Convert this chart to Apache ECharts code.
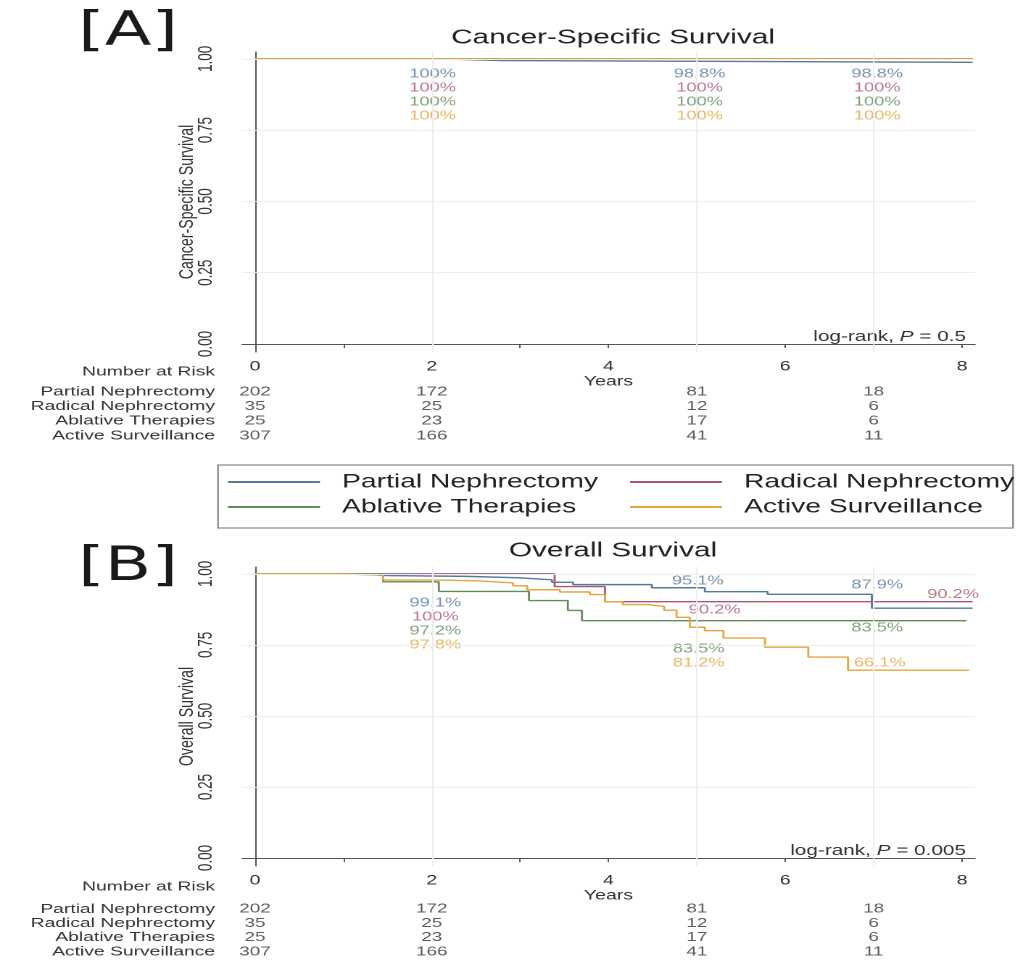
<!DOCTYPE html>
<html><head><meta charset="utf-8">
<script src="https://cdn.jsdelivr.net/npm/echarts@6/dist/echarts.min.js"></script>
<style>
html,body{margin:0;padding:0;background:#fff;overflow:hidden}
#wrap{width:1025px;height:968px;overflow:hidden;position:relative;background:#fff}
#chart{height:968px;transform-origin:0 0;position:absolute;left:0;top:0}
</style></head>
<body><div id="wrap"><div id="chart"></div></div>
<script>
// ---------------- DATA ----------------
const groups = ['Partial Nephrectomy', 'Radical Nephrectomy', 'Ablative Therapies', 'Active Surveillance'];
const xTicks = [0, 1, 2, 3, 4, 5, 6, 7, 8];
const xTickLabels = [0, 2, 4, 6, 8];
const yTickLabels = [0, 0.25, 0.5, 0.75, 1];

// Cancer-specific survival (Kaplan-Meier steps: [years, survival])
const cssPartial  = [[0, 1], [2.05, 0.994], [2.8, 0.988], [8.12, 0.988]];
const cssRadical  = [[0, 1], [8.12, 1]];
const cssAblative = [[0, 1], [8.12, 1]];
const cssActive   = [[0, 1], [8.12, 1]];

// Overall survival
const osPartial  = [[0, 1], [0.85, 0.997], [1.33, 0.994], [1.5, 0.991], [2.4, 0.986], [2.99, 0.979],
                    [3.36, 0.97], [3.6, 0.962], [4.49, 0.951], [5.09, 0.937], [5.8, 0.928], [6.98, 0.879], [8.12, 0.879]];
const osRadical  = [[0, 1], [3.39, 0.955], [3.96, 0.902], [8.12, 0.902]];
const osAblative = [[0, 1], [1.45, 0.972], [2.08, 0.938], [3.1, 0.906], [3.54, 0.871], [3.7, 0.835], [8.05, 0.835]];
const osActive   = [[0, 1], [0.9, 0.997], [1.45, 0.978], [2.1, 0.975], [2.55, 0.968], [2.92, 0.958], [3.08, 0.944],
                    [3.45, 0.936], [3.79, 0.927], [3.96, 0.902], [4.16, 0.892], [4.45, 0.885], [4.63, 0.872],
                    [4.77, 0.847], [4.92, 0.812], [5.09, 0.8], [5.3, 0.774], [5.77, 0.742], [6.26, 0.707],
                    [6.71, 0.661], [8.08, 0.661]];

// Annotated survival estimates at 2, 5 and 7 years
const annotYears = [2, 5, 7];
const cssAnnotPartial  = ['100%', '98.8%', '98.8%'];
const cssAnnotRadical  = ['100%', '100%', '100%'];
const cssAnnotAblative = ['100%', '100%', '100%'];
const cssAnnotActive   = ['100%', '100%', '100%'];
const osAnnotPartial  = ['99.1%', '95.1%', '87.9%'];
const osAnnotRadical  = ['100%', '90.2%', '90.2%'];
const osAnnotAblative = ['97.2%', '83.5%', '83.5%'];
const osAnnotActive   = ['97.8%', '81.2%', '66.1%'];

// Number at risk
const riskYears = [0, 2, 5, 7];
const riskPartial  = [202, 172, 81, 18];
const riskRadical  = [35, 25, 12, 6];
const riskAblative = [25, 23, 17, 6];
const riskActive   = [307, 166, 41, 11];

const cssPValue = '0.5';
const osPValue = '0.005';

// ---------------- LAYOUT / STYLE ----------------
const S = 1.45;                 // horizontal stretch of the whole picture
const X = v => v / S;           // reference px -> inner px
const FONT = 'Liberation Sans, Arial, sans-serif';
const colors = ['#55799f', '#ad5673', '#628c58', '#e5a63f'];
const TXT = '#333';
const XMIN = -0.147, XMAX = 8.147, YMIN = -0.028, YMAX = 1.024;

// label placement (data-space anchor of each text)
const cssAnnotRowY = [0.947, 0.898, 0.849, 0.8];
const cssAnnotX = [2.01, 5.03, 7.04];
const osAnnotPos = [
  [[2.04, 0.897], [5.01, 0.974], [7.04, 0.96]],
  [[2.04, 0.848], [5.2, 0.872], [7.9, 0.928]],
  [[2.04, 0.799], [5.02, 0.736], [7.04, 0.809]],
  [[2.04, 0.75], [5.02, 0.687], [7.07, 0.687]]
];

const el = document.getElementById('chart');
el.style.width = (1025 / S) + 'px';
el.style.transform = 'scaleX(' + S + ')';
const chart = echarts.init(el, null, {renderer: 'canvas', devicePixelRatio: 2});

function mainX(gi) {
  return {
    type: 'value', gridIndex: gi, min: XMIN, max: XMAX,
    axisLine: {show: true, lineStyle: {color: '#555', width: 1}},
    axisTick: {show: true, customValues: xTicks, length: 4, lineStyle: {color: '#555'}},
    axisLabel: {customValues: xTickLabels, margin: 8, fontSize: 13.5, color: TXT, fontFamily: FONT},
    splitLine: {show: false},
    name: 'Years', nameLocation: 'middle', nameGap: 23, nameMoveOverlap: false,
    nameTextStyle: {fontSize: 13.5, color: TXT, fontFamily: FONT}
  };
}
function mainY(gi, name) {
  return {
    type: 'value', gridIndex: gi, min: YMIN, max: YMAX,
    axisLine: {show: true, lineStyle: {color: '#555', width: 1}},
    axisTick: {show: true, customValues: yTickLabels, length: X(7), lineStyle: {color: '#555'}},
    axisLabel: {customValues: yTickLabels, rotate: 90, margin: X(25.5), fontSize: 13.5, color: TXT, fontFamily: FONT,
                formatter: v => Number(v).toFixed(2)},
    splitLine: {show: false},
    name: name, nameLocation: 'middle', nameGap: X(45), nameRotate: 90, nameMoveOverlap: false,
    nameTextStyle: {fontSize: 14.2, color: TXT, fontFamily: FONT}
  };
}
function riskX(gi) {
  return {type: 'value', gridIndex: gi, min: XMIN, max: XMAX, show: false};
}
function riskY(gi) {
  return {
    type: 'category', gridIndex: gi, data: groups, inverse: true,
    axisLine: {show: false}, axisTick: {show: false}, splitLine: {show: false},
    axisLabel: {interval: 0, margin: X(27), fontSize: 13.3, color: TXT, fontFamily: FONT}
  };
}

function gridSeries(xi) {
  const v = [2, 5, 7].map(x => ({xAxis: x}));
  const h = [0.25, 0.5, 0.75, 1].map(y => ({yAxis: y}));
  return {
    type: 'line', xAxisIndex: xi, yAxisIndex: xi, data: [], silent: true,
    markLine: {silent: true, symbol: ['none', 'none'], label: {show: false},
               lineStyle: {color: '#ededed', type: 'solid', width: 1}, data: v.concat(h), animation: false}
  };
}
function kmSeries(xi, name, data, ci) {
  return {
    type: 'line', name: name, xAxisIndex: xi, yAxisIndex: xi, step: 'end', symbol: 'none',
    data: data, lineStyle: {color: colors[ci], width: 1.4}, itemStyle: {color: colors[ci]},
    silent: true, animation: false
  };
}
function annotSeries(xi, items, ci) {
  return {
    type: 'scatter', xAxisIndex: xi, yAxisIndex: xi, symbolSize: 1, silent: true,
    itemStyle: {color: 'rgba(0,0,0,0)'},
    data: items,
    label: {show: true, position: 'inside', formatter: p => p.data.t, color: colors[ci],
            fontSize: 12.6, fontFamily: FONT},
    animation: false
  };
}
function riskSeries(xi) {
  const rows = [riskPartial, riskRadical, riskAblative, riskActive];
  const data = [];
  rows.forEach((r, gi) => r.forEach((n, k) => data.push({value: [riskYears[k], groups[gi]], t: String(n)})));
  return {
    type: 'scatter', xAxisIndex: xi, yAxisIndex: xi, symbolSize: 1, silent: true,
    itemStyle: {color: 'rgba(0,0,0,0)'}, data: data,
    label: {show: true, position: 'inside', formatter: p => p.data.t, color: TXT, fontSize: 13, fontFamily: FONT},
    animation: false
  };
}

const cssAnnots = [cssAnnotPartial, cssAnnotRadical, cssAnnotAblative, cssAnnotActive];
const osAnnots = [osAnnotPartial, osAnnotRadical, osAnnotAblative, osAnnotActive];
const cssCurves = [cssPartial, cssRadical, cssAblative, cssActive];
const osCurves = [osPartial, osRadical, osAblative, osActive];

const series = [gridSeries(0), gridSeries(1)];
groups.forEach((g, i) => series.push(kmSeries(0, g, cssCurves[i], i)));
groups.forEach((g, i) => series.push(kmSeries(1, g, osCurves[i], i)));
groups.forEach((g, i) => series.push(annotSeries(0,
  cssAnnots[i].map((t, k) => ({value: [cssAnnotX[k], cssAnnotRowY[i]], t: t})), i)));
groups.forEach((g, i) => series.push(annotSeries(1,
  osAnnots[i].map((t, k) => ({value: osAnnotPos[i][k], t: t})), i)));
series.push(riskSeries(2));
series.push(riskSeries(3));

function legendCol(names, left) {
  return {
    data: names.map(n => ({name: n, icon: 'rect'})), orient: 'vertical', left: left, top: 472,
    padding: 0, itemWidth: X(92), itemHeight: 2, itemGap: 5, selectedMode: false,
    textStyle: {fontSize: 19.5, color: '#222', fontFamily: FONT, padding: [0, 0, 0, X(22) - 5]}
  };
}

function pText(y, p) {
  return {
    type: 'text', silent: true,
    style: {
      x: X(966), y: y, align: 'right', verticalAlign: 'middle',
      text: '{a|log-rank, }{p|P}{a| = ' + p + '}',
      rich: {a: {fontSize: 14.3, fontFamily: FONT, fill: TXT}, p: {fontSize: 14.3, fontFamily: FONT, fill: TXT, fontStyle: 'italic'}}
    }
  };
}
function txt(x, y, t, size, align, color, family) {
  return {type: 'text', silent: true,
          style: {x: x, y: y, text: t, align: align || 'center', verticalAlign: 'middle',
                  fontSize: size, fontFamily: family || FONT, fill: color || TXT}};
}

const option = {
  backgroundColor: '#fff',
  animation: false,
  grid: [
    {left: X(242), top: 52, width: X(733), height: 300, outerBoundsMode: 'none', containLabel: false},
    {left: X(242), top: 567, width: X(733), height: 299, outerBoundsMode: 'none', containLabel: false},
    {left: X(242), top: 384.5, width: X(733), height: 58.5, outerBoundsMode: 'none', containLabel: false},
    {left: X(242), top: 902, width: X(733), height: 56.8, outerBoundsMode: 'none', containLabel: false}
  ],
  xAxis: [mainX(0), mainX(1), riskX(2), riskX(3)],
  yAxis: [mainY(0, 'Cancer-Specific Survival'), mainY(1, 'Overall Survival'), riskY(2), riskY(3)],
  legend: [legendCol([groups[0], groups[2]], X(228)), legendCol([groups[1], groups[3]], X(630))],
  graphic: [
    {type: 'rect', silent: true, shape: {x: X(218), y: 465, width: X(795), height: 63},
     style: {fill: 'none', stroke: '#8c8c8c', lineWidth: 1.2}},
    txt(X(128), 33, '[A]', 47, 'center', '#1a1a1a', 'DejaVu Sans, sans-serif'),
    txt(X(128), 568, '[B]', 47, 'center', '#1a1a1a', 'DejaVu Sans, sans-serif'),
    txt(X(613), 38, 'Cancer-Specific Survival', 20.5, 'center', '#222'),
    txt(X(613), 551, 'Overall Survival', 20.5, 'center', '#222'),
    txt(X(215), 372, 'Number at Risk', 13.3, 'right'),
    txt(X(215), 887, 'Number at Risk', 13.3, 'right'),
    pText(337, cssPValue),
    pText(851, osPValue)
  ],
  series: series
};
chart.setOption(option);
</script>
</body></html>
